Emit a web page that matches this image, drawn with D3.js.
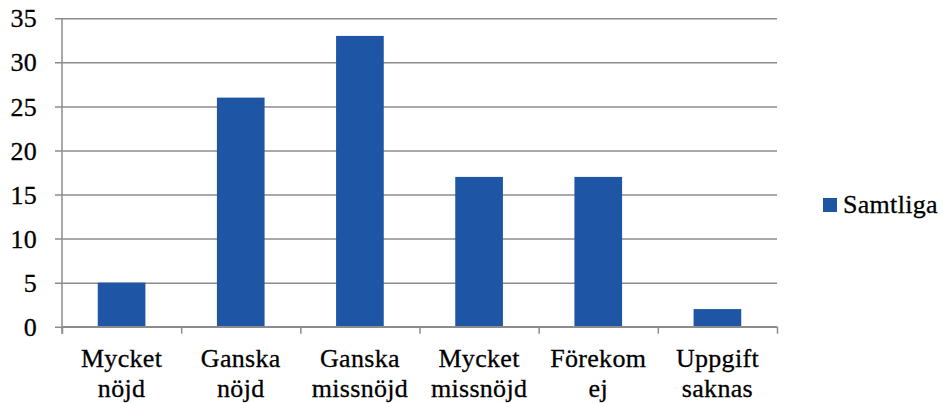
<!DOCTYPE html>
<html><head><meta charset="utf-8">
<script src="https://cdn.jsdelivr.net/npm/d3@7"></script>
<style>body{margin:0;background:#fff}svg{display:block}</style>
</head><body>
<script>
const categories = [["Mycket","nöjd"],["Ganska","nöjd"],["Ganska","missnöjd"],["Mycket","missnöjd"],["Förekom","ej"],["Uppgift","saknas"]];
const values = [5, 26, 33, 17, 17, 2];
const yTicks = [0, 5, 10, 15, 20, 25, 30, 35];
const seriesName = "Samtliga";

(function () {
const W = 949, H = 403;
const fs = 26;
const svg = d3.select("body").append("svg").attr("width", W).attr("height", H);
const mL = 62, mR = 777, mT = 18.3, mB = 326.7;
const x = d3.scaleBand().domain(d3.range(values.length)).range([mL, mR]).padding(0);
const y = d3.scaleLinear().domain([0, 35]).range([mB, mT]);
const grid = "#8c8c8c";
function styleText(sel) {
  sel.attr("font-family", "Liberation Serif").attr("font-size", fs)
     .attr("fill", "#000").attr("stroke", "#000").attr("stroke-width", 0.3).attr("letter-spacing", 0.3);
}

// gridlines + y axis labels
const yAxis = d3.axisLeft(y).tickValues(yTicks).tickSize(mR - mL + 7).tickFormat(d3.format("d"));
const gy = svg.append("g").attr("transform", `translate(${mR},0)`).call(yAxis);
gy.attr("font-family", null).attr("font-size", null);
gy.select(".domain").remove();
gy.selectAll(".tick line").attr("stroke", grid).attr("stroke-width", 1.5);
gy.selectAll(".tick text").attr("x", -(mR - mL) - 25).attr("dy", "0.33em")
  .attr("text-anchor", "end").call(styleText);

// y axis line
svg.append("line").attr("x1", mL).attr("x2", mL).attr("y1", mT).attr("y2", mB + 7)
  .attr("stroke", grid).attr("stroke-width", 1.5);

// bars
const bw = x.bandwidth() * 0.4;
svg.append("g").selectAll("rect").data(values).join("rect")
  .attr("x", (d, i) => x(i) + x.bandwidth() / 2 - bw / 2)
  .attr("width", bw)
  .attr("y", d => y(d))
  .attr("height", d => y(0) - y(d))
  .attr("fill", "#1E55A5");

// x axis
const xb = d3.scaleLinear().domain([0, values.length]).range([mL, mR]);
const gx = svg.append("g").attr("transform", `translate(0,${mB})`)
  .call(d3.axisBottom(xb).tickValues(d3.range(values.length + 1)).tickSize(7).tickFormat(""));
gx.select(".domain").attr("stroke", grid).attr("stroke-width", 1.5).attr("d", `M${mL},0H${mR}`);
gx.selectAll(".tick line").attr("stroke", grid).attr("stroke-width", 1.5);

// category labels
const lab = svg.append("g").selectAll("text").data(categories).join("text")
  .attr("text-anchor", "middle").call(styleText)
  .attr("x", (d, i) => x(i) + x.bandwidth() / 2).attr("y", 367);
lab.selectAll("tspan").data(d => d).join("tspan")
  .attr("x", function () { return this.parentNode.getAttribute("x"); })
  .attr("dy", (d, i) => i === 0 ? 0 : 30).text(d => d);

// legend
svg.append("rect").attr("x", 823).attr("y", 198).attr("width", 14).attr("height", 14).attr("fill", "#1E55A5");
svg.append("text").attr("x", 843).attr("y", 213).call(styleText).text(seriesName);
})();
</script>
</body></html>
